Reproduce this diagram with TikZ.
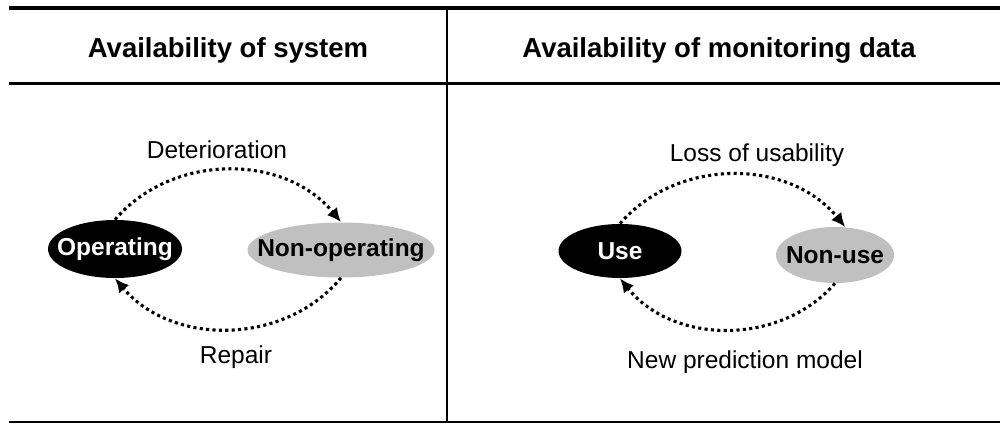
\documentclass[tikz,border=0pt]{standalone}
\usepackage{fontspec}
\setmainfont{Liberation Sans}
\usetikzlibrary{shapes.geometric, arrows.meta}

\definecolor{silber}{HTML}{C0C0C0}
\newcommand{\zustand}[1]{\makebox[0pt]{\bfseries #1}}

\begin{document}
\begin{tikzpicture}[x=0.5pt, y=-0.5pt,
        font=\fontsize{12.25}{14}\selectfont,
        kopf/.style={anchor=base, font=\fontsize{13.75}{16}\selectfont\bfseries},
        beschriftung/.style={anchor=base},
        zustandan/.style={ellipse, fill=black, text=white, inner sep=0pt},
        zustandaus/.style={ellipse, fill=silber, text=black, inner sep=0pt},
        uebergang/.style={line width=1.55pt, dash pattern=on 1.55pt off 1.65pt,
            -{Latex[length=7pt,width=6.5pt]}}]
        \useasboundingbox (0,0) rectangle (1000,424);

        % Tabellenlinien
        \draw[line width=2pt] (9,8) -- (1000,8);
        \draw[line width=1.1pt] (9,83.5) -- (1000,83.5);
        \draw[line width=1.25pt] (9,422) -- (1000,422);
        \draw[line width=0.75pt] (447,8) -- (447,422);

        % Kopfzeile
        \node[kopf] (kopfSystem) at (228,57) {Availability of system};
        \node[kopf] (kopfDaten) at (719,57) {Availability of monitoring data};

        % Zustaende links
        \node[zustandan, minimum width=67pt, minimum height=29pt] (op) at (115,249) {\zustand{Operating}};
        \node[zustandaus, minimum width=93.5pt, minimum height=27.5pt] (nop) at (341,250) {\zustand{Non-operating}};

        % Zustaende rechts
        \node[zustandan, minimum width=61.5pt, minimum height=27pt] (use) at (620,251) {\zustand{Use}};
        \node[zustandaus, minimum width=59pt, minimum height=28pt] (nuse) at (835,255) {\zustand{Non-use}};

        % Uebergaenge
        \draw[uebergang] (op.north) to[bend left=50] (nop.north);
        \draw[uebergang] (nop.south) to[bend left=50] (op.south);
        \draw[uebergang] (use.north) to[bend left=50] (nuse.70);
        \draw[uebergang] (nuse.south) to[bend left=50] (use.south);

        % Beschriftungen
        \node[beschriftung] (lblDet) at (217,158) {Deterioration};
        \node[beschriftung] (lblRep) at (236,363) {Repair};
        \node[beschriftung] (lblLoss) at (757,161) {Loss of usability};
        \node[beschriftung] (lblNew) at (745,368) {New prediction model};
    \end{tikzpicture}
\end{document}
